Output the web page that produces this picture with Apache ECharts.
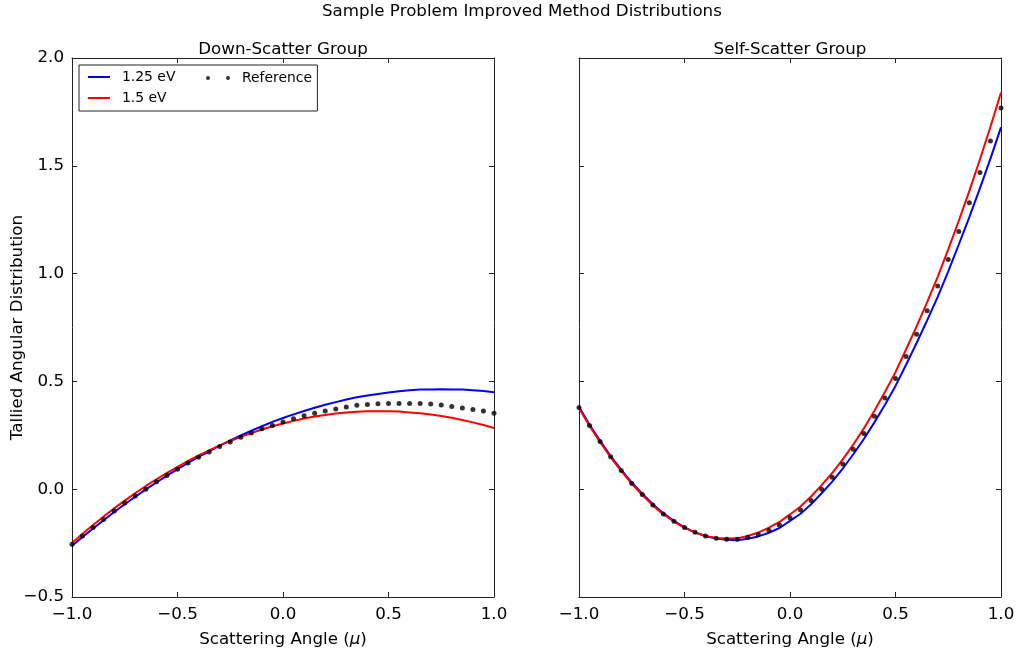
<!DOCTYPE html>
<html>
<head>
<meta charset="utf-8">
<script src="https://cdn.jsdelivr.net/npm/echarts@6/dist/echarts.min.js"></script>
<style>
html,body{margin:0;padding:0;background:#fff;}
#chart{width:1018px;height:653px;}
</style>
</head>
<body>
<div id="chart"></div>
<script>
const mu = [-1, -0.95, -0.9, -0.85, -0.8, -0.75, -0.7, -0.65, -0.6, -0.55, -0.5, -0.45, -0.4, -0.35, -0.3, -0.25, -0.2, -0.15, -0.1, -0.05, 0,
  0.05, 0.1, 0.15, 0.2, 0.25, 0.3, 0.35, 0.4, 0.45, 0.5, 0.55, 0.6, 0.65, 0.7, 0.75, 0.8, 0.85, 0.9, 0.95, 1];

// Down-Scatter Group
const downBlue = [-0.262, -0.222, -0.182, -0.144, -0.106, -0.070, -0.035, -0.001, 0.031, 0.063, 0.093, 0.122, 0.150, 0.176, 0.202, 0.226, 0.249, 0.271, 0.292, 0.312, 0.330,
  0.347, 0.363, 0.378, 0.392, 0.404, 0.416, 0.426, 0.435, 0.442, 0.449, 0.454, 0.459, 0.462, 0.463, 0.464, 0.463, 0.462, 0.459, 0.455, 0.450];
const downRed = [-0.250, -0.207, -0.166, -0.127, -0.089, -0.053, -0.018, 0.015, 0.046, 0.076, 0.104, 0.131, 0.157, 0.180, 0.203, 0.223, 0.243, 0.260, 0.277, 0.292, 0.305,
  0.317, 0.328, 0.337, 0.344, 0.351, 0.356, 0.359, 0.361, 0.362, 0.362, 0.360, 0.356, 0.352, 0.346, 0.339, 0.331, 0.321, 0.310, 0.298, 0.284];
const downRef = [-0.255, -0.217, -0.178, -0.140, -0.101, -0.064, -0.032, 0.000, 0.035, 0.064, 0.093, 0.122, 0.148, 0.173, 0.198, 0.219, 0.241, 0.261, 0.280, 0.296, 0.312,
  0.327, 0.341, 0.352, 0.363, 0.372, 0.381, 0.389, 0.393, 0.396, 0.398, 0.398, 0.398, 0.398, 0.395, 0.390, 0.384, 0.377, 0.370, 0.363, 0.352];

// Self-Scatter Group
const selfBlue = [0.382, 0.299, 0.224, 0.154, 0.091, 0.031, -0.021, -0.070, -0.112, -0.147, -0.177, -0.200, -0.218, -0.229, -0.235, -0.237, -0.230, -0.219, -0.202, -0.180, -0.147,
  -0.114, -0.070, -0.019, 0.035, 0.096, 0.162, 0.233, 0.310, 0.392, 0.479, 0.577, 0.678, 0.783, 0.892, 1.010, 1.135, 1.262, 1.395, 1.533, 1.678];
const selfRed = [0.376, 0.293, 0.218, 0.148, 0.085, 0.025, -0.027, -0.075, -0.117, -0.150, -0.179, -0.200, -0.217, -0.226, -0.229, -0.228, -0.217, -0.201, -0.178, -0.152, -0.117,
  -0.080, -0.034, 0.019, 0.075, 0.138, 0.207, 0.282, 0.364, 0.451, 0.543, 0.648, 0.755, 0.868, 0.985, 1.112, 1.245, 1.384, 1.529, 1.681, 1.840];
const selfRef = [0.379, 0.296, 0.221, 0.150, 0.087, 0.027, -0.025, -0.073, -0.115, -0.149, -0.178, -0.200, -0.217, -0.227, -0.232, -0.232, -0.223, -0.210, -0.190, -0.166, -0.132,
  -0.097, -0.052, 0.000, 0.055, 0.117, 0.185, 0.258, 0.338, 0.423, 0.513, 0.615, 0.719, 0.828, 0.942, 1.065, 1.195, 1.329, 1.469, 1.615, 1.768];

const xTicks = [-1.0, -0.5, 0.0, 0.5, 1.0];
const yTicks = [-0.5, 0.0, 0.5, 1.0, 1.5, 2.0];
const seriesNames = ['1.25 eV', '1.5 eV', 'Reference'];
const titleText = 'Sample Problem Improved Method Distributions';
const panelTitles = ['Down-Scatter Group', 'Self-Scatter Group'];

const FONT = 'DejaVu Sans';
const fmt = v => (v < 0 ? '\u2212' : '') + Math.abs(v).toFixed(1);
const pair = ys => mu.map((m, i) => [m, ys[i]]);

const axisLineStyle = {show: true, onZero: false, lineStyle: {color: '#222', width: 1}};
const tickStyle = {show: true, inside: true, length: 5, lineStyle: {color: '#222', width: 1}};

function xAxisDef(grid, pos, name) {
  const a = {
    type: 'value', gridIndex: grid, position: pos,
    min: xTicks[0], max: xTicks[xTicks.length - 1], interval: 0.5,
    axisLine: axisLineStyle, axisTick: tickStyle, splitLine: {show: false},
    axisLabel: {show: pos === 'bottom', formatter: fmt, margin: 9, fontFamily: FONT, fontSize: 16.7, color: '#000'}
  };
  if (pos === 'top') {
    a.name = name; a.nameLocation = 'middle'; a.nameGap = 0;
    a.nameTextStyle = {fontFamily: FONT, fontSize: 16.7, color: '#000'};
  } else {
    a.name = 'Scattering Angle ({i|\u03bc})'; a.nameLocation = 'middle'; a.nameGap = 34;
    a.nameTextStyle = {fontFamily: FONT, fontSize: 16.7, color: '#000',
      rich: {i: {fontFamily: FONT, fontSize: 16.7, fontStyle: 'italic', color: '#000'}}};
  }
  return a;
}
function yAxisDef(grid, pos, labels) {
  const a = {
    type: 'value', gridIndex: grid, position: pos,
    min: yTicks[0], max: yTicks[yTicks.length - 1], interval: 0.5,
    axisLine: axisLineStyle, axisTick: tickStyle, splitLine: {show: false},
    axisLabel: {show: labels, formatter: fmt, margin: 8, fontFamily: FONT, fontSize: 16.7, color: '#000'}
  };
  if (labels) {
    a.name = 'Tallied Angular Distribution'; a.nameLocation = 'middle'; a.nameGap = 46;
    a.nameMoveOverlap = false;
    a.nameTextStyle = {fontFamily: FONT, fontSize: 16.7, color: '#000'};
  }
  return a;
}

const lineSeries = (name, data, color, xi, yi) => ({
  name, type: 'line', data: pair(data), xAxisIndex: xi, yAxisIndex: yi,
  showSymbol: false, symbol: 'none', lineStyle: {color, width: 2}, itemStyle: {color},
  clip: true, animation: false
});
const dotSeries = (name, data, xi, yi) => ({
  name, type: 'scatter', data: pair(data), xAxisIndex: xi, yAxisIndex: yi,
  symbol: 'circle', symbolSize: 5, itemStyle: {color: '#000'}, clip: true, animation: false, z: 3
});

const legendText = {fontFamily: FONT, fontSize: 13.9, color: '#000', lineHeight: 14, padding: [0, 0, 0, 7]};

const chart = echarts.init(document.getElementById('chart'), null, {renderer: 'canvas'});
chart.setOption({
  animation: false,
  backgroundColor: '#fff',
  title: {text: titleText, left: 322, top: 3, padding: 0,
    textStyle: {fontFamily: FONT, fontSize: 16.7, fontWeight: 'normal', color: '#000'}},
  grid: [
    {left: 72, top: 58, width: 422, height: 540},
    {left: 579, top: 58, width: 422, height: 540}
  ],
  xAxis: [xAxisDef(0, 'bottom'), xAxisDef(0, 'top', panelTitles[0]), xAxisDef(1, 'bottom'), xAxisDef(1, 'top', panelTitles[1])],
  yAxis: [yAxisDef(0, 'left', true), yAxisDef(0, 'right', false), yAxisDef(1, 'left', false), yAxisDef(1, 'right', false)],
  legend: [
    {data: [{name: seriesNames[0], icon: 'rect'}, {name: seriesNames[1], icon: 'rect'}],
      orient: 'vertical', left: 79, top: 65, itemWidth: 22, itemHeight: 2, itemGap: 7, itemTextGap: 5,
      padding: [5, 142, 6, 9], borderColor: '#222', borderWidth: 1, backgroundColor: '#fff',
      textStyle: legendText},
    {data: [{name: seriesNames[2], icon: 'path://M0,2A2,2 0 1 1 4,2A2,2 0 1 1 0,2Z M20,2A2,2 0 1 1 24,2A2,2 0 1 1 20,2Z'}],
      left: 206, top: 71, itemWidth: 24, itemHeight: 4, itemTextGap: 5, padding: 0, z: 10,
      textStyle: legendText}
  ],
  series: [
    lineSeries(seriesNames[0], downBlue, '#0000ff', 0, 0),
    lineSeries(seriesNames[1], downRed, '#ff0000', 0, 0),
    dotSeries(seriesNames[2], downRef, 0, 0),
    lineSeries(seriesNames[0], selfBlue, '#0000ff', 2, 2),
    lineSeries(seriesNames[1], selfRed, '#ff0000', 2, 2),
    dotSeries(seriesNames[2], selfRef, 2, 2)
  ]
});
</script>
</body>
</html>
